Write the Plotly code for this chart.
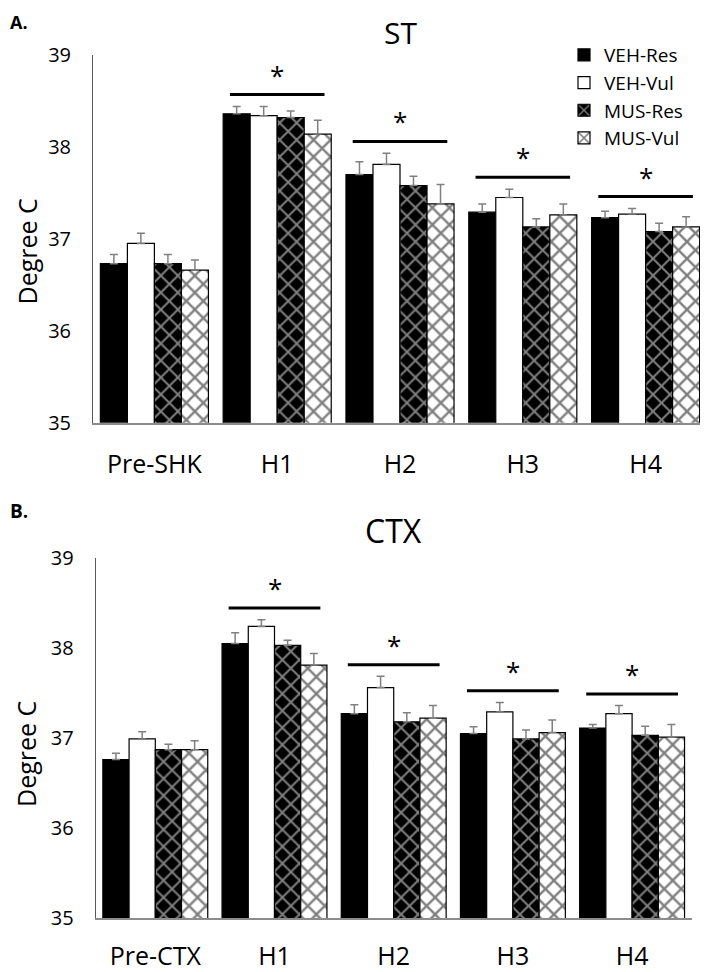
import plotly.graph_objects as go

# ---- data ----
groups = ['VEH-Res', 'VEH-Vul', 'MUS-Res', 'MUS-Vul']

st_cats = ['Pre-SHK', 'H1', 'H2', 'H3', 'H4']
st_veh_res = [36.73, 38.36, 37.70, 37.29, 37.23]
st_veh_vul = [36.95, 38.34, 37.81, 37.45, 37.27]
st_mus_res = [36.73, 38.32, 37.58, 37.13, 37.08]
st_mus_vul = [36.66, 38.14, 37.38, 37.26, 37.13]
st_veh_res_err = [0.10, 0.08, 0.14, 0.09, 0.07]
st_veh_vul_err = [0.11, 0.10, 0.12, 0.09, 0.06]
st_mus_res_err = [0.10, 0.07, 0.10, 0.09, 0.09]
st_mus_vul_err = [0.11, 0.15, 0.21, 0.12, 0.11]

ctx_cats = ['Pre-CTX', 'H1', 'H2', 'H3', 'H4']
ctx_veh_res = [36.76, 38.05, 37.27, 37.05, 37.11]
ctx_veh_vul = [36.99, 38.24, 37.56, 37.29, 37.27]
ctx_mus_res = [36.87, 38.03, 37.18, 36.99, 37.03]
ctx_mus_vul = [36.87, 37.81, 37.22, 37.06, 37.01]
ctx_veh_res_err = [0.07, 0.12, 0.10, 0.075, 0.04]
ctx_veh_vul_err = [0.08, 0.075, 0.125, 0.105, 0.09]
ctx_mus_res_err = [0.06, 0.055, 0.10, 0.10, 0.10]
ctx_mus_vul_err = [0.10, 0.13, 0.14, 0.14, 0.14]

# categories marked with a significance bar + asterisk
sig_cats = ['H1', 'H2', 'H3', 'H4']

yticks = [35, 36, 37, 38, 39]

FONT = 'Open Sans'
# the page body has an 8px margin, so the figure is drawn 8px smaller
# and every position below is given in window pixels and shifted back
OFF = 8
W, H = 708 - OFF, 972 - OFF


def px(x):
    return (x - OFF) / W


def py(y):
    return 1 - (y - OFF) / H


styles = {
    'VEH-Res': dict(color='black', pattern=None),
    'VEH-Vul': dict(color='white', pattern=None),
    'MUS-Res': dict(color='black', pattern=dict(shape='x', fgcolor='white', size=12,
                                                solidity=0.3, fillmode='overlay')),
    'MUS-Vul': dict(color='white', pattern=dict(shape='x', fgcolor='black', size=12,
                                                solidity=0.35, fillmode='overlay')),
}


def add_panel(fig, cats, series, errs, xa, ya, legend):
    for name, vals, err in zip(groups, series, errs):
        st = styles[name]
        marker = dict(color=st['color'], line=dict(color='black', width=1.2))
        if st['pattern']:
            marker['pattern'] = st['pattern']
        fig.add_trace(go.Bar(
            x=cats, y=vals, name=name, marker=marker,
            error_y=dict(type='data', array=err, arrayminus=[0] * len(err),
                         symmetric=False, color='#808080', thickness=1.5, width=4),
            xaxis=xa, yaxis=ya, showlegend=legend,
        ))
    # significance bars
    tops = [max(v + e for v, e in zip(col_v, col_e))
            for col_v, col_e in zip(zip(*series), zip(*errs))]
    for i, c in enumerate(cats):
        if c not in sig_cats:
            continue
        y = tops[i] + 0.13
        fig.add_shape(type='line', xref=xa, yref=ya, x0=i - 0.385, x1=i + 0.385,
                      y0=y, y1=y, line=dict(color='black', width=3))
        fig.add_annotation(xref=xa, yref=ya, x=i, y=y, text='*', showarrow=False,
                           yanchor='bottom', font=dict(family=FONT, size=26, color='black'))


fig = go.Figure()
add_panel(fig, st_cats,
          [st_veh_res, st_veh_vul, st_mus_res, st_mus_vul],
          [st_veh_res_err, st_veh_vul_err, st_mus_res_err, st_mus_vul_err],
          'x', 'y', True)
add_panel(fig, ctx_cats,
          [ctx_veh_res, ctx_veh_vul, ctx_mus_res, ctx_mus_vul],
          [ctx_veh_res_err, ctx_veh_vul_err, ctx_mus_res_err, ctx_mus_vul_err],
          'x2', 'y2', False)

xcommon = dict(showline=True, linecolor='#8c8c8c', linewidth=1.5, ticks='',
               showgrid=False, zeroline=False, tickfont=dict(family=FONT, size=25, color='black'))
ycommon = dict(showline=True, linecolor='#595959', linewidth=1, ticks='', range=[35, 39],
               tickvals=yticks, showgrid=False, zeroline=False,
               tickfont=dict(family=FONT, size=20, color='black'), ticklabelstandoff=17)

fig.update_layout(
    template='none',
    width=W, height=H,
    margin=dict(l=0, r=0, t=0, b=0),
    paper_bgcolor='white', plot_bgcolor='white',
    barmode='group', bargap=0.12, bargroupgap=0,
    font=dict(family=FONT, color='black'),
    xaxis=dict(domain=[px(93), px(707)], anchor='y', ticklabelstandoff=19, **xcommon),
    yaxis=dict(domain=[py(422.7), py(55)], anchor='x', **ycommon),
    xaxis2=dict(domain=[px(95.7), px(691.7)], anchor='y2', ticklabelstandoff=15, **xcommon),
    yaxis2=dict(domain=[py(918), py(558)], anchor='x2', **ycommon),
    legend=dict(x=px(564), y=py(36), xanchor='left', yanchor='top',
                font=dict(family=FONT, size=19, color='black'),
                bgcolor='rgba(0,0,0,0)', itemclick=False),
)

labels = [
    dict(text='ST', x=400, y=32, size=30),
    dict(text='CTX', x=393.7, y=530, size=32),
]
for lb in labels:
    fig.add_annotation(xref='paper', yref='paper', x=px(lb['x']), y=py(lb['y']),
                       text=lb['text'], showarrow=False, xanchor='center', yanchor='middle',
                       font=dict(family=FONT, size=lb['size'], color='black'))

# panel letters; A. sits at the very top so anchor it by its top edge
fig.add_annotation(xref='paper', yref='paper', x=0, y=1, text='<b>A.</b>',
                   showarrow=False, xanchor='left', yanchor='top',
                   font=dict(family=FONT, size=18, color='black'))
fig.add_annotation(xref='paper', yref='paper', x=0, y=py(510.5), text='<b>B.</b>',
                   showarrow=False, xanchor='left', yanchor='middle',
                   font=dict(family=FONT, size=19, color='black'))

for yy in [251.5, 754]:
    fig.add_annotation(xref='paper', yref='paper', x=px(26), y=py(yy), text='Degree C',
                       textangle=-90, showarrow=False, xanchor='center', yanchor='middle',
                       font=dict(family=FONT, size=25, color='black'))

fig.write_html('out.html')
